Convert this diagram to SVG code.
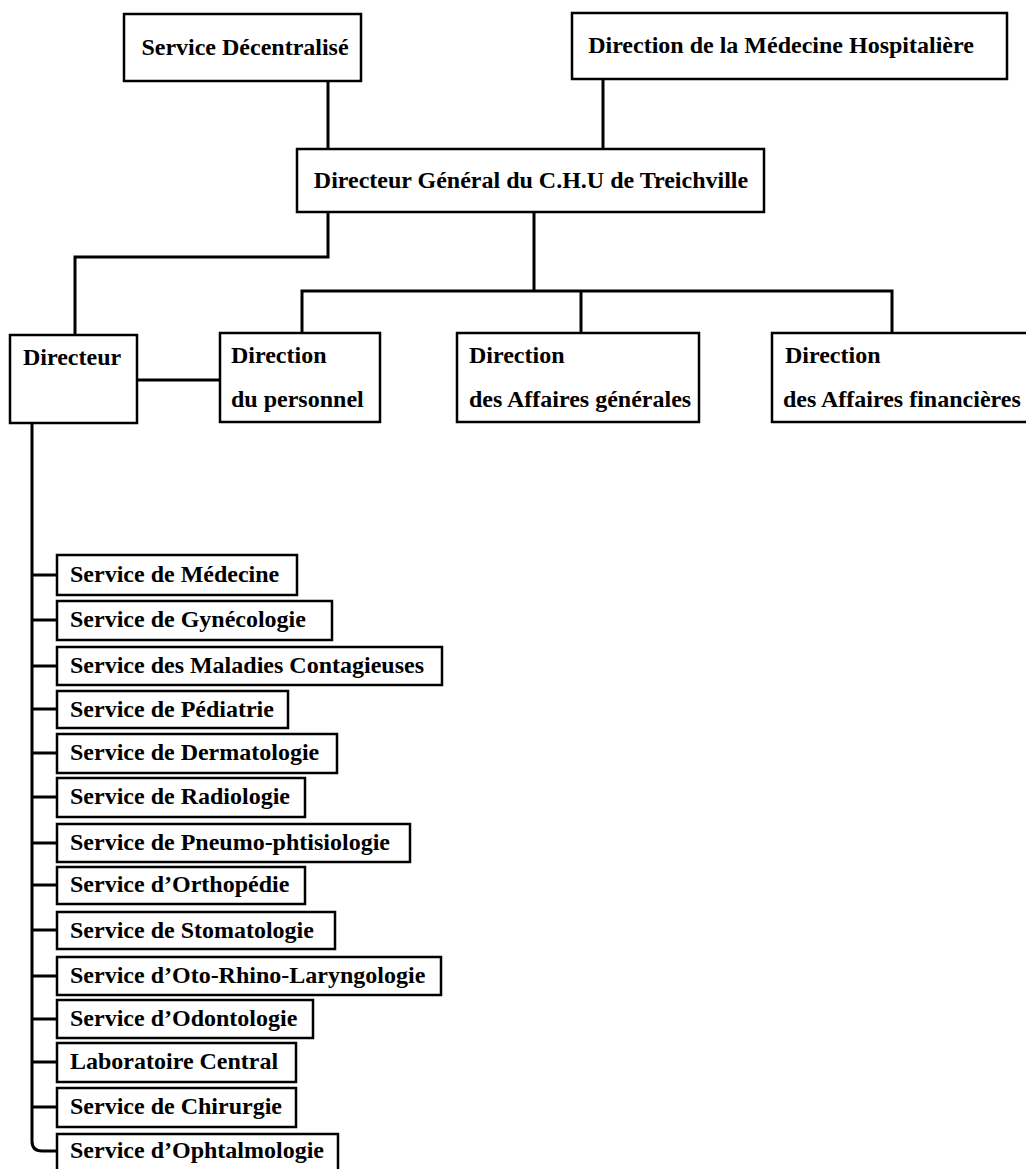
<svg xmlns="http://www.w3.org/2000/svg" width="1026" height="1169" viewBox="0 0 1026 1169">
<style>
.box{fill:#fff;stroke:#000;stroke-width:2.5}
.conn{fill:none;stroke:#000;stroke-width:3}
.t{font-family:"Liberation Serif","Times New Roman",serif;font-weight:bold;font-size:24px;fill:#000}
.c{text-anchor:middle}
</style>
<rect width="1026" height="1169" fill="#fff"/>
<g id="connectors">
<path class="conn" d="M328,81 V150"/>
<path class="conn" d="M603,79 V148"/>
<path class="conn" d="M328,212 V257 H75 V335"/>
<path class="conn" d="M534,212 V291"/>
<path class="conn" d="M302,333 V291 H892 V333"/>
<path class="conn" d="M581,291 V333"/>
<path class="conn" d="M137,380 H220" stroke-width="2.5"/>
<path class="conn" d="M32,423 V1141 Q32,1151 42,1151 H57"/>
<path class="conn" stroke-width="2.5" d="M32,575 H57 M32,620 H57 M32,666 H57 M32,709 H57 M32,753 H57 M32,797 H57 M32,843 H57 M32,885 H57 M32,930 H57 M32,976 H57 M32,1019 H57 M32,1062 H57 M32,1107 H57"/>
</g>
<g id="n-service-decentralise"><rect class="box" x="124" y="14" width="237" height="67"/><text class="t c" x="245" y="55">Service Décentralisé</text></g>
<g id="n-direction-medecine-hospitaliere"><rect class="box" x="572" y="13" width="435" height="66"/><text class="t c" x="781" y="53">Direction de la Médecine Hospitalière</text></g>
<g id="n-directeur-general"><rect class="box" x="297" y="149" width="467" height="63"/><text class="t c" x="531" y="188">Directeur Général du C.H.U de Treichville</text></g>
<g id="n-directeur"><rect class="box" x="10" y="335" width="127" height="88"/><text class="t" x="23" y="365">Directeur</text></g>
<g id="n-direction-personnel"><rect class="box" x="220" y="333" width="160" height="89"/><text class="t" x="231" y="363">Direction</text><text class="t" x="231" y="407">du personnel</text></g>
<g id="n-affaires-generales"><rect class="box" x="457" y="333" width="242" height="89"/><text class="t" x="469" y="363">Direction</text><text class="t" x="469" y="407">des Affaires générales</text></g>
<g id="n-affaires-financieres"><rect class="box" x="772" y="333" width="270" height="89"/><text class="t" x="785" y="363">Direction</text><text class="t" x="783" y="407">des Affaires financières</text></g>
<g id="n-medecine"><rect class="box" x="57" y="555" width="240" height="40"/><text class="t" x="70" y="582">Service de Médecine</text></g>
<g id="n-gynecologie"><rect class="box" x="57" y="601" width="275" height="39"/><text class="t" x="70" y="627">Service de Gynécologie</text></g>
<g id="n-maladies-contagieuses"><rect class="box" x="57" y="647" width="385" height="38"/><text class="t" x="70" y="673">Service des Maladies Contagieuses</text></g>
<g id="n-pediatrie"><rect class="box" x="57" y="691" width="231" height="37"/><text class="t" x="70" y="717">Service de Pédiatrie</text></g>
<g id="n-dermatologie"><rect class="box" x="57" y="734" width="280" height="39"/><text class="t" x="70" y="760">Service de Dermatologie</text></g>
<g id="n-radiologie"><rect class="box" x="57" y="778" width="248" height="39"/><text class="t" x="70" y="804">Service de Radiologie</text></g>
<g id="n-pneumo"><rect class="box" x="57" y="824" width="353" height="38"/><text class="t" x="70" y="850">Service de Pneumo-phtisiologie</text></g>
<g id="n-orthopedie"><rect class="box" x="57" y="867" width="248" height="37"/><text class="t" x="70" y="892">Service d’Orthopédie</text></g>
<g id="n-stomatologie"><rect class="box" x="57" y="912" width="278" height="37"/><text class="t" x="70" y="938">Service de Stomatologie</text></g>
<g id="n-orl"><rect class="box" x="57" y="957" width="384" height="38"/><text class="t" x="70" y="983">Service d’Oto-Rhino-Laryngologie</text></g>
<g id="n-odontologie"><rect class="box" x="57" y="1000" width="256" height="38"/><text class="t" x="70" y="1026">Service d’Odontologie</text></g>
<g id="n-laboratoire"><rect class="box" x="57" y="1043" width="239" height="39"/><text class="t" x="70" y="1069">Laboratoire Central</text></g>
<g id="n-chirurgie"><rect class="box" x="57" y="1088" width="239" height="39"/><text class="t" x="70" y="1114">Service de Chirurgie</text></g>
<g id="n-ophtalmologie"><rect class="box" x="57" y="1134" width="281" height="37"/><text class="t" x="70" y="1158">Service d’Ophtalmologie</text></g>
</svg>
